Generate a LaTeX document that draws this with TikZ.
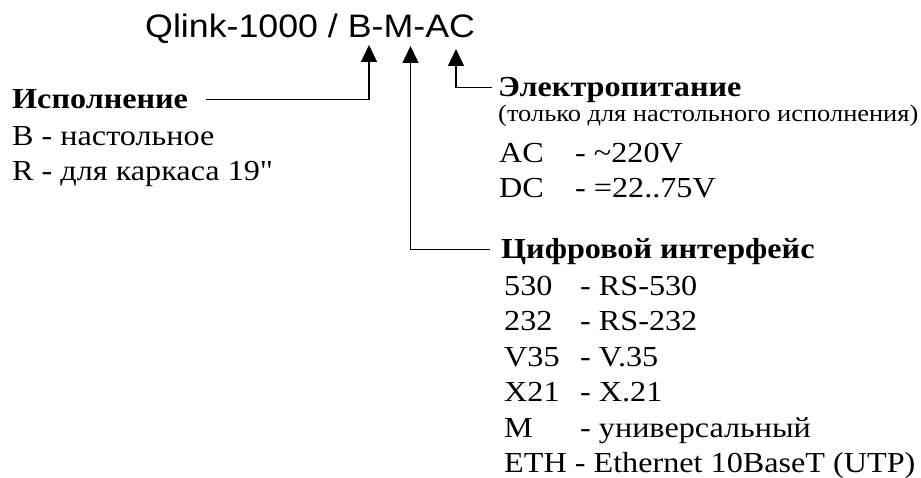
\documentclass[tikz,border=0pt]{standalone}
\usepackage{fontspec}
\setmainfont{Liberation Serif}[FakeStretch=1.11]
\newfontfamily\titlefont{Liberation Sans}[FakeStretch=1.1]
\usetikzlibrary{arrows.meta,positioning}
\newcommand\optrow[2]{\makebox[76pt][l]{#1}- #2}

\begin{document}
\begin{tikzpicture}[x=1pt, y=-1pt,
  title/.style={inner sep=0, anchor=base west, font=\titlefont\fontsize{32.5}{36}\selectfont},
  head/.style={inner sep=0, anchor=base west, text height=19pt, text depth=0pt, font=\bfseries\fontsize{29}{33}\selectfont},
  opt/.style={inner sep=0, anchor=north west, text height=20pt, text depth=6pt, font=\fontsize{29}{33}\selectfont},
  note/.style={inner sep=0, anchor=north west, text height=16pt, text depth=5pt, font=\fontsize{23.8}{27}\selectfont},
  arr/.style={-{Triangle[length=17pt,width=16pt]}, line width=1.4pt}
]
\useasboundingbox (0,0) rectangle (921,478);

\node[title] (model) at (145,38) {Qlink-1000 / B-M-AC};
\coordinate (tipB) at (369,45);
\coordinate (tipM) at (410.5,46);
\coordinate (tipAC) at (456,49);

% design
\node[head] (ispol) at (12,109) {Исполнение};
\node[opt, below=16pt of ispol.south west, anchor=north west] (desk) {B - настольное};
\node[opt, below=9pt of desk.south west, anchor=north west] (rack) {R - для каркаса 19\textquotedbl};

% power
\node[head] (power) at (498,97) {Электропитание};
\node[note, below=8pt of power.south west, anchor=north west] (pnote) {(только для настольного исполнения)};
\node[opt, below=16pt of pnote.south west, anchor=north west, xshift=1pt] (ac) {\optrow{AC}{\textasciitilde220V}};
\node[opt, below=8pt of ac.south west, anchor=north west] (dc) {\optrow{DC}{=22..75V}};

% interface
\node[head] (iface) at (501,259) {Цифровой интерфейс};
\node[opt, below=16pt of iface.south west, anchor=north west, xshift=3pt] (i530) {\optrow{530}{RS-530}};
\node[opt, below=9pt of i530.south west, anchor=north west] (i232) {\optrow{232}{RS-232}};
\node[opt, below=9pt of i232.south west, anchor=north west] (iv35) {\optrow{V35}{V.35}};
\node[opt, below=9pt of iv35.south west, anchor=north west] (ix21) {\optrow{X21}{X.21}};
\node[opt, below=9pt of ix21.south west, anchor=north west] (im) {\optrow{M}{универсальный}};
\node[opt, below=9pt of im.south west, anchor=north west] (ieth) {ETH - Ethernet 10BaseT (UTP)};

\draw[arr] ([xshift=18pt]ispol.east) -| (tipB);
\draw[arr] ([xshift=-11pt]iface.west) -| (tipM);
\draw[arr] ([xshift=-6pt]power.west) -| (tipAC);

\end{tikzpicture}
\end{document}
